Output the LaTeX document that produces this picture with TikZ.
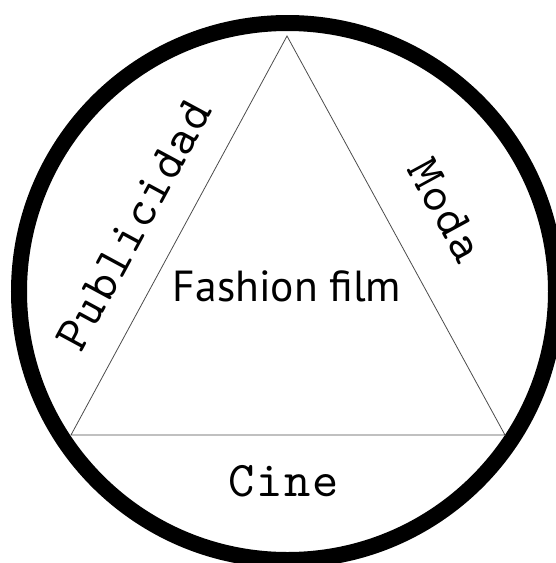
\documentclass[tikz,border=0pt]{standalone}
\usepackage{fontspec}
\setmainfont{PT Sans}
\newfontfamily\typewriter{lmmono10-regular.otf}[LetterSpace=3]
\begin{document}
\begin{tikzpicture}[x=1pt, y=-1pt,
  sidelabel/.style={font=\fontsize{50}{54}\selectfont\typewriter, inner sep=0pt}]
\useasboundingbox (0,0) rectangle (556,563);
\clip (0,0) rectangle (556,563);
\draw[line width=16pt] (287.5,291.5) circle [radius=268.5];
\coordinate (apex) at (287,36);
\coordinate (left) at (71,435);
\coordinate (right) at (505,435);
\draw[black!70, line width=0.8pt] (apex) -- (left) -- (right) -- cycle;
\node[sidelabel, rotate=61.6] (publicidad) at (134,225) {Publicidad};
\node[sidelabel, rotate=-61.4] (moda) at (446,210) {Moda};
\node[sidelabel, anchor=base] (cine) at (283.5,496) {Cine};
\node[font=\fontsize{43.5}{48}\selectfont, anchor=base, inner sep=0pt] (fashion) at (287,301) {Fashion film};
\end{tikzpicture}
\end{document}
